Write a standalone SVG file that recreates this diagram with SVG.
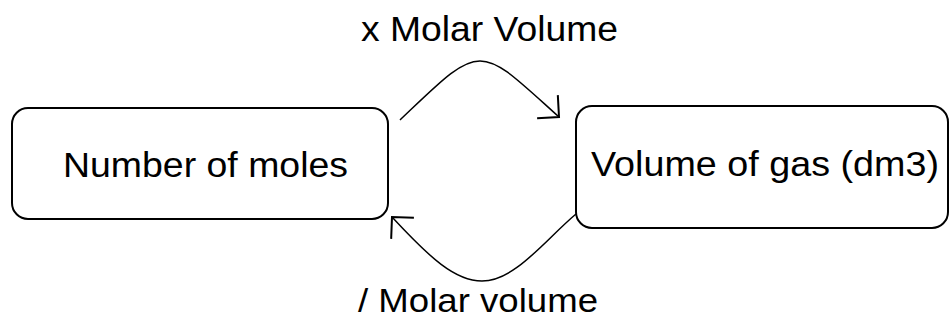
<svg xmlns="http://www.w3.org/2000/svg" width="950" height="320" viewBox="0 0 950 320">
  <style>
    .box { fill: #ffffff; stroke: #000000; stroke-width: 2; }
    .lbl { font-family: "Liberation Sans", Arial, sans-serif; font-size: 35px; fill: #000000; }
    .conn { fill: none; stroke: #000000; stroke-width: 1.5; }
  </style>
  <defs>
    <marker id="arr" markerUnits="userSpaceOnUse" viewBox="-25 -25 30 50" markerWidth="30" markerHeight="50" refX="0" refY="0" orient="auto" overflow="visible">
      <path d="M-15.5,-15.5 L0,0 L-15.5,15.5" fill="none" stroke="#000000" stroke-width="2"/>
    </marker>
  </defs>
  <rect width="950" height="320" fill="#ffffff"/>
  <g id="node-moles">
    <rect class="box" x="12" y="108" width="376" height="111" rx="16" ry="16"/>
    <text class="lbl" x="63" y="177" textLength="285" lengthAdjust="spacingAndGlyphs">Number of moles</text>
  </g>
  <g id="node-volume">
    <rect class="box" x="576" y="106" width="372" height="122" rx="16" ry="16"/>
    <text class="lbl" x="591" y="176" textLength="348" lengthAdjust="spacingAndGlyphs">Volume of gas (dm3)</text>
  </g>
  <g id="connectors">
    <path class="conn" d="M400,120 C440,82 460,61 480,61 C500,61 520,82 559,117" marker-end="url(#arr)"/>
    <text class="lbl" x="361" y="41" textLength="257" lengthAdjust="spacingAndGlyphs">x Molar Volume</text>
    <path class="conn" d="M576,214 C545,240 515,281 482,281 C455,281 430,258 392,217" marker-end="url(#arr)"/>
    <text class="lbl" x="358" y="312" font-size="34" style="font-size:34px" textLength="240" lengthAdjust="spacingAndGlyphs">/ Molar volume</text>
  </g>
</svg>
